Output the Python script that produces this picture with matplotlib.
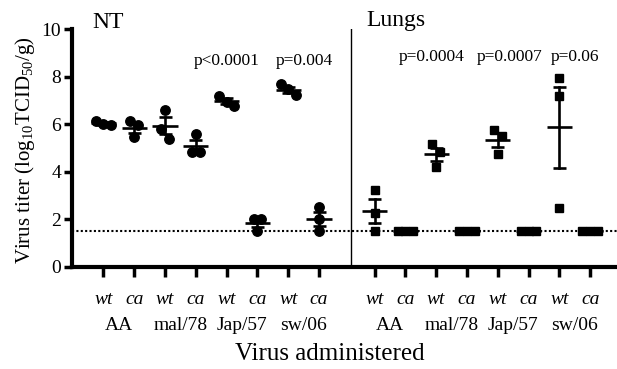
import numpy as np
import matplotlib
matplotlib.use("Agg")
import matplotlib.pyplot as plt
from matplotlib.transforms import blended_transform_factory

plt.rcParams['font.family'] = ['Liberation Serif', 'DejaVu Serif']
plt.rcParams['mathtext.fontset'] = 'custom'
plt.rcParams['mathtext.rm'] = 'Liberation Serif'

# ---------------- data ----------------
strains = ["AA", "mal/78", "Jap/57", "sw/06"]
types = ["wt", "ca"]
nt_values = [
    [6.15, 6.00, 5.98],   # AA wt
    [6.15, 5.45, 5.95],   # AA ca
    [6.60, 5.40, 5.80],   # mal/78 wt
    [5.60, 4.85, 4.82],   # mal/78 ca
    [7.20, 6.75, 6.95],   # Jap/57 wt
    [2.00, 2.00, 1.50],   # Jap/57 ca
    [7.68, 7.22, 7.47],   # sw/06 wt
    [2.50, 2.00, 1.50],   # sw/06 ca
]
lung_values = [
    [3.25, 2.25, 1.50],   # AA wt
    [1.50, 1.50, 1.50],   # AA ca
    [5.15, 4.85, 4.20],   # mal/78 wt
    [1.50, 1.50, 1.50],   # mal/78 ca
    [5.75, 5.50, 4.75],   # Jap/57 wt
    [1.50, 1.50, 1.50],   # Jap/57 ca
    [7.94, 7.19, 2.49],   # sw/06 wt
    [1.50, 1.50, 1.50],   # sw/06 ca
]
detection_limit = 1.5
nt_pvalues = ["p<0.0001", "p=0.004"]
lung_pvalues = ["p=0.0004", "p=0.0007", "p=0.06"]
panel_titles = ["NT", "Lungs"]

# ---------------- layout ----------------
nt_x = np.arange(1, 9, dtype=float)
lung_x = nt_x + 8.8
divider_x = 9.05
nt_p_x = [5.01, 7.51]
lung_p_x = [11.66, 14.2, 16.31]

fig = plt.figure(figsize=(6.17, 3.69), dpi=100)
ax = fig.add_axes([72/617, 1-266.7/369, 1-72/617, (266.7-29.3)/369])
ax.set_xlim(-0.02, 17.67)
ax.set_ylim(0, 10)

def row_offsets(vals, tol=0.45, d=0.25):
    vals = np.asarray(vals)
    order = np.argsort(-vals)
    offs = np.zeros(len(vals))
    rows = []
    cur = [order[0]]
    for i in order[1:]:
        if abs(vals[cur[-1]] - vals[i]) < tol:
            cur.append(i)
        else:
            rows.append(cur)
            cur = [i]
    rows.append(cur)
    for r in rows:
        n = len(r)
        for k, idx in enumerate(r):
            offs[idx] = (k - (n - 1) / 2) * d
    return offs

def draw_group(x, vals, marker, ms):
    vals = np.asarray(vals)
    offs = row_offsets(vals)
    ax.plot(x + offs, vals, linestyle='none', marker=marker, ms=ms,
            color='black', zorder=4, clip_on=False)
    m = vals.mean()
    sem = vals.std(ddof=1) / np.sqrt(len(vals))
    ax.plot([x - 0.41, x + 0.41], [m, m], color='black', lw=1.9, zorder=5,
            solid_capstyle='butt')
    if sem > 0:
        ax.plot([x, x], [m - sem, m + sem], color='black', lw=1.9, zorder=5)
        for yy in (m - sem, m + sem):
            ax.plot([x - 0.21, x + 0.21], [yy, yy], color='black', lw=1.9,
                    zorder=5, solid_capstyle='butt')

for x, v in zip(nt_x, nt_values):
    draw_group(x, v, 'o', 6.8)
for x, v in zip(lung_x, lung_values):
    draw_group(x, v, 's', 6.0)

ax.axhline(detection_limit, color='black', lw=1.5, linestyle=(0, (1, 1.1)),
           zorder=3)
ax.plot([divider_x, divider_x], [0, 10], color='black', lw=1.0, zorder=2)

# spines & ticks
for s in ('top', 'right'):
    ax.spines[s].set_visible(False)
ax.spines['left'].set_linewidth(3)
ax.spines['bottom'].set_linewidth(3)
ax.set_yticks([0, 2, 4, 6, 8, 10])
ax.set_yticklabels(['0', '2', '4', '6', '8', '10'], fontsize=14)
ax.set_xticks(np.concatenate([nt_x, lung_x]))
ax.set_xticklabels([])
ax.tick_params(axis='y', length=6, width=2.5, pad=2)
ax.tick_params(axis='x', length=7, width=2.5)

# p-values and panel titles
for px, t in zip(nt_p_x, nt_pvalues):
    ax.text(px, 8.65, t, ha='center', va='center', fontsize=12.5)
for px, t in zip(lung_p_x, lung_pvalues):
    ax.text(px, 8.85, t, ha='center', va='center', fontsize=12.5)
ax.text(0.63, 10.3, panel_titles[0], ha='left', va='center', fontsize=17,
        clip_on=False)
ax.text(9.55, 10.35, panel_titles[1], ha='left', va='center', fontsize=17,
        clip_on=False)

# category labels
tr = blended_transform_factory(ax.transData, fig.transFigure)
all_x = np.concatenate([nt_x, lung_x])
for i, x in enumerate(all_x):
    ax.text(x, 1 - 299/369, types[i % 2], ha='center', va='center',
            fontsize=14, style='italic', transform=tr)
for xs in (nt_x, lung_x):
    for j, s in enumerate(strains):
        ax.text((xs[2*j] + xs[2*j+1]) / 2, 1 - 325/369, s, ha='center',
                va='center', fontsize=14, transform=tr)
ax.text(8.35, 1 - 354/369, "Virus administered", ha='center', va='center',
        fontsize=18, transform=tr)
fig.text(25/617, 1 - 150/369,
         r'Virus titer (log$_{\mathregular{10}}$TCID$_{\mathregular{50}}$/g)',
         rotation=90, ha='center', va='center', fontsize=15)

fig.savefig("out.png", dpi=100)
